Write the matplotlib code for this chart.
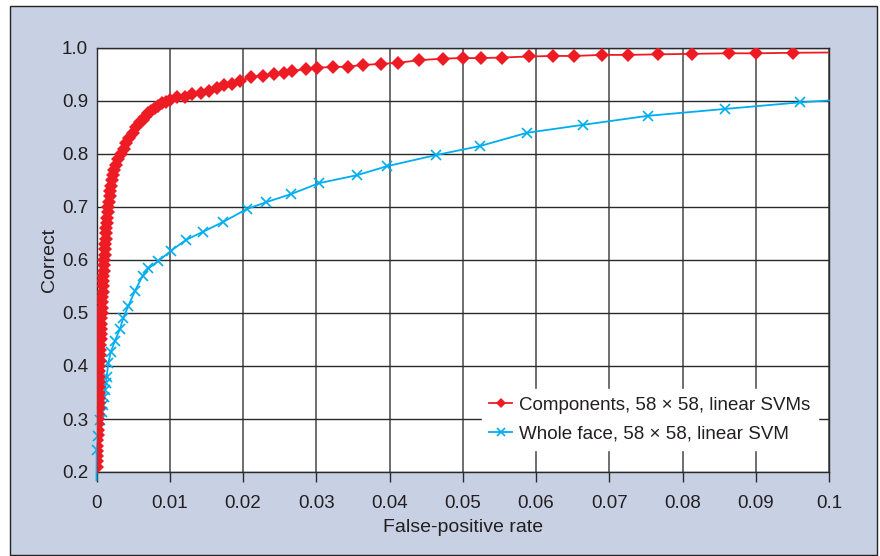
"""ROC curves: component-based vs whole-face linear SVM detectors (58 x 58)."""

import matplotlib
matplotlib.use("Agg")
import matplotlib.pyplot as plt
from matplotlib.patches import Rectangle

# ---------------------------------------------------------------------------
# Data
# ---------------------------------------------------------------------------
COMP_FPR = [
    0.00002, 0.00004, 0.00006, 0.00008, 0.00010, 0.00012, 0.00015, 0.00018,
    0.00021, 0.00024, 0.00026, 0.00028, 0.00030, 0.00031, 0.00032, 0.00034,
    0.00035, 0.00037, 0.00038, 0.00040, 0.00043, 0.00046, 0.00049, 0.00052,
    0.00055, 0.00058, 0.00062, 0.00065, 0.00068, 0.00071, 0.00074, 0.00077,
    0.00080, 0.00084, 0.00088, 0.00091, 0.00095, 0.00099, 0.00103, 0.00107,
    0.00111, 0.00116, 0.00120, 0.00125, 0.00130, 0.00136, 0.00142, 0.00148,
    0.00155, 0.00162, 0.00170, 0.00178, 0.00188, 0.00198, 0.00208, 0.00220,
    0.00245, 0.00270, 0.00300, 0.00335, 0.00372, 0.00408, 0.00448, 0.00492,
    0.00545, 0.00598, 0.00640, 0.00665, 0.00707, 0.00750, 0.00799, 0.00845,
    0.00890, 0.00950, 0.01003, 0.01103, 0.01208, 0.01308, 0.01422, 0.01540,
    0.01641, 0.01745, 0.01846, 0.01959, 0.02109, 0.02269, 0.02427, 0.02560,
    0.02673, 0.02856, 0.03006, 0.03222, 0.03438, 0.03642, 0.03880, 0.04112,
    0.04407, 0.04734, 0.05000, 0.05249, 0.05532, 0.05904, 0.06236, 0.06523,
    0.06905, 0.07252, 0.07670, 0.08126, 0.08635, 0.09007, 0.09504, 0.10000,
]
COMP_CORRECT = [
    0.21, 0.22, 0.23, 0.24, 0.25, 0.26, 0.27, 0.28,
    0.29, 0.30, 0.31, 0.32, 0.33, 0.34, 0.35, 0.36,
    0.37, 0.38, 0.39, 0.40, 0.41, 0.42, 0.43, 0.44,
    0.45, 0.46, 0.47, 0.48, 0.49, 0.50, 0.51, 0.52,
    0.53, 0.54, 0.55, 0.56, 0.57, 0.58, 0.59, 0.60,
    0.61, 0.62, 0.63, 0.64, 0.65, 0.66, 0.67, 0.68,
    0.69, 0.70, 0.71, 0.72, 0.73, 0.74, 0.75, 0.76,
    0.77, 0.78, 0.79, 0.80, 0.81, 0.82, 0.83, 0.84,
    0.85, 0.86, 0.865, 0.87, 0.877, 0.882, 0.886, 0.891,
    0.896, 0.899, 0.901, 0.9075, 0.908, 0.913, 0.916, 0.919,
    0.925, 0.930, 0.933, 0.938, 0.945, 0.948, 0.950, 0.953,
    0.957, 0.960, 0.963, 0.964, 0.965, 0.968, 0.970, 0.972,
    0.977, 0.980, 0.981, 0.981, 0.982, 0.984, 0.985, 0.985,
    0.987, 0.987, 0.988, 0.989, 0.990, 0.990, 0.991, 0.9915,
]

FACE_FPR = [
    0.0, 0.00003, 0.00025, 0.00048, 0.00079, 0.00093, 0.00102, 0.00116,
    0.00130, 0.00139, 0.00161, 0.00194, 0.00253, 0.00321, 0.00366, 0.00434,
    0.00526, 0.00630, 0.00707, 0.00844, 0.01013, 0.01222, 0.01450, 0.01731,
    0.02050, 0.02314, 0.02659, 0.03038, 0.03556, 0.03966, 0.04635, 0.05235,
    0.05877, 0.06641, 0.07525, 0.08580, 0.09610, 0.10000,
]
FACE_CORRECT = [
    0.185, 0.242, 0.267, 0.298, 0.314, 0.326, 0.342, 0.355,
    0.367, 0.380, 0.405, 0.426, 0.448, 0.470, 0.491, 0.513,
    0.542, 0.570, 0.584, 0.598, 0.617, 0.638, 0.653, 0.672,
    0.696, 0.709, 0.7245, 0.745, 0.760, 0.777, 0.798, 0.815,
    0.840, 0.855, 0.872, 0.885, 0.8975, 0.901,
]

X_TICKS = [0, 0.01, 0.02, 0.03, 0.04, 0.05, 0.06, 0.07, 0.08, 0.09, 0.1]
X_TICK_LABELS = ["0", "0.01", "0.02", "0.03", "0.04", "0.05",
                 "0.06", "0.07", "0.08", "0.09", "0.1"]
Y_TICKS = [0.2, 0.3, 0.4, 0.5, 0.6, 0.7, 0.8, 0.9, 1.0]
Y_TICK_LABELS = ["0.2", "0.3", "0.4", "0.5", "0.6", "0.7", "0.8", "0.9", "1.0"]

RED = "#ed1c24"
BLUE = "#00aeef"
PANEL = "#c8d0e4"
GRID = "#2a2a2a"
TEXT = "#231f20"

plt.rcParams["font.family"] = ["Liberation Sans", "DejaVu Sans"]


def main() -> None:
    fig = plt.figure(figsize=(8.8, 5.56), dpi=100)
    fig.patch.set_facecolor("white")

    # framed panel behind the axes
    fig.patches.append(Rectangle((10 / 880, 1 / 556), 867 / 880, 549 / 556,
                                 transform=fig.transFigure, facecolor=PANEL,
                                 edgecolor="#222222", linewidth=1.0, zorder=-10))

    ax = fig.add_axes([96.5 / 880, 84 / 556, 732.5 / 880, 424 / 556])
    ax.set_facecolor("white")

    ax.plot(COMP_FPR, COMP_CORRECT, "-", color=RED, linewidth=1.3,
            marker="D", markersize=6.8, markeredgewidth=0,
            markevery=list(range(len(COMP_FPR) - 1)), zorder=4,
            label="Components, 58 \u00d7 58, linear SVMs")
    ax.plot(FACE_FPR, FACE_CORRECT, "-", color=BLUE, linewidth=1.3,
            marker="x", markersize=7, markeredgewidth=1.2,
            markevery=list(range(1, len(FACE_FPR) - 1)), zorder=3,
            clip_on=False,
            label="Whole face, 58 \u00d7 58, linear SVM")

    ax.set_xlim(0, 0.1)
    ax.set_ylim(0.2, 1.0)
    ax.set_xticks(X_TICKS)
    ax.set_xticklabels(X_TICK_LABELS, fontsize=13.5)
    ax.set_yticks(Y_TICKS)
    ax.set_yticklabels(Y_TICK_LABELS, fontsize=13.5)
    ax.tick_params(axis="x", direction="out", length=7, width=1, color=GRID,
                   pad=9.5, labelcolor=TEXT)
    ax.tick_params(axis="y", length=0, pad=6, labelcolor=TEXT)

    ax.grid(True, axis="x", color="#555555", linewidth=1.2)
    ax.grid(True, axis="y", color=GRID, linewidth=1.0)
    ax.set_axisbelow(True)
    for side in ax.spines.values():
        side.set_color(GRID)
        side.set_linewidth(1.0)

    ax.set_xlabel("False-positive rate", fontsize=14, color=TEXT, labelpad=5)
    ax.set_ylabel("Correct", fontsize=14, color=TEXT, labelpad=3)

    leg = ax.legend(loc="lower right", bbox_to_anchor=(0.985, 0.052),
                    fontsize=13.5, frameon=True, fancybox=False,
                    framealpha=1.0, facecolor="white", edgecolor="white",
                    handlelength=1.2, handletextpad=0.4, borderpad=0.4,
                    labelspacing=0.62, borderaxespad=0.0, markerscale=0.75)
    leg.set_zorder(10)
    for text in leg.get_texts():
        text.set_color(TEXT)

    fig.savefig("out.png", dpi=100, facecolor=fig.get_facecolor())
    plt.close(fig)


if __name__ == "__main__":
    main()
